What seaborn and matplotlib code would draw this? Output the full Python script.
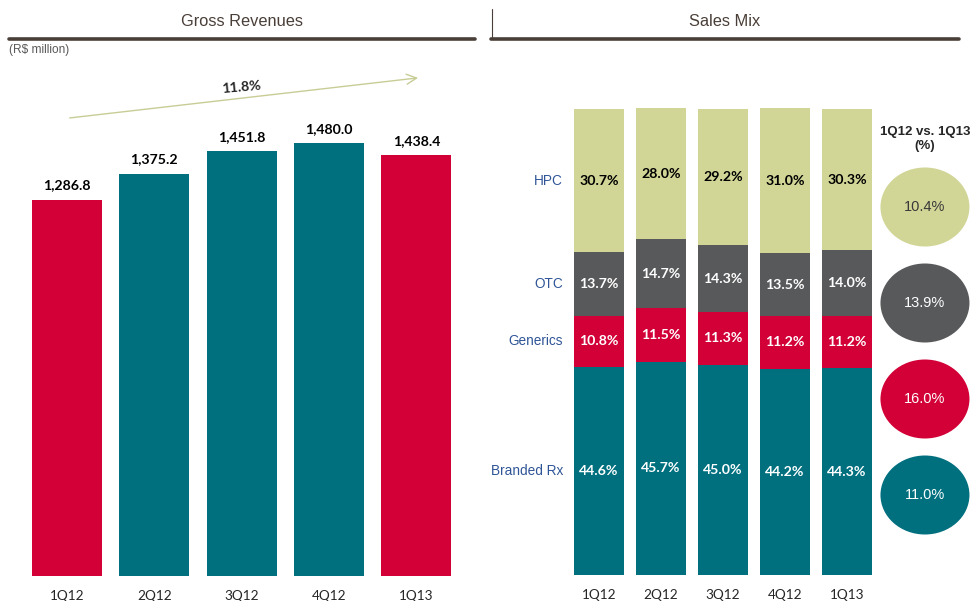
import numpy as np
import pandas as pd
import seaborn as sns
from matplotlib import pyplot as plt
from matplotlib.patches import Ellipse
from matplotlib.transforms import blended_transform_factory

# data
quarters = ["1Q12", "2Q12", "3Q12", "4Q12", "1Q13"]
gross_revenues = [1286.8, 1375.2, 1451.8, 1480.0, 1438.4]
growth_label = "11.8%"

segments = ["Branded Rx", "Generics", "OTC", "HPC"]
branded_rx = [44.6, 45.7, 45.0, 44.2, 44.3]
generics = [10.8, 11.5, 11.3, 11.2, 11.2]
otc = [13.7, 14.7, 14.3, 13.5, 14.0]
hpc = [30.7, 28.0, 29.2, 31.0, 30.3]
yoy_growth = [11.0, 16.0, 13.9, 10.4]  # same order as segments

TEAL = "#00707F"
RED = "#D20037"
HPC_GREEN = "#D1D596"
GREY = "#58595B"
HEADER = "#4A3F38"
LABEL_BLUE = "#2F5597"
BOLD_FONT = ["Lato", "DejaVu Sans"]

sns.set_theme(style="white")
plt.rcParams["font.family"] = ["Liberation Sans", "DejaVu Sans"]

fig = plt.figure(figsize=(9.71, 6.01), dpi=100)
W, H = 971, 601


def px_axes(x0, y0, x1, y1):
    """add axes from pixel box (top-left origin)"""
    return fig.add_axes([x0 / W, (H - y1) / H, (x1 - x0) / W, (y1 - y0) / H])


# ---- headers
fig.text(242 / W, 1 - 22 / H, "Gross Revenues", ha="center", va="center",
         fontsize=11.8, color=HEADER)
fig.text(725 / W, 1 - 22 / H, "Sales Mix", ha="center", va="center",
         fontsize=11.8, color=HEADER)
fig.add_artist(plt.Line2D([9 / W, 475 / W], [1 - 38.5 / H] * 2, color=HEADER, lw=2.6))
fig.add_artist(plt.Line2D([491 / W, 959 / W], [1 - 38.5 / H] * 2, color=HEADER, lw=2.6))
fig.add_artist(plt.Line2D([491.5 / W] * 2, [1 - 9 / H, 1 - 38 / H], color=HEADER, lw=0.8))
fig.text(9 / W, 1 - 50 / H, "(R$ million)", ha="left", va="center",
         fontsize=8.6, color="#595959")

# ---- gross revenues
ax = px_axes(23.4, 60, 460, 576)
rev = pd.DataFrame({"quarter": quarters, "revenue": gross_revenues})
bar_colors = [RED, TEAL, TEAL, TEAL, RED]
sns.barplot(data=rev, x="quarter", y="revenue", hue="quarter", palette=bar_colors,
            legend=False, width=0.8, saturation=1, linewidth=0, ax=ax)
ax.set_ylim(0, 516 / 0.2925)
ax.set_xlim(-0.5, 4.5)
for i, v in enumerate(gross_revenues):
    ax.annotate(f"{v:,.1f}", (i, v), xytext=(0, 6), textcoords="offset points",
                ha="center", va="bottom", fontsize=10.2, fontweight="bold",
                family=BOLD_FONT, color="black")
ax.annotate("", xy=(4.02, 1703), xytext=(0.03, 1566),
            arrowprops=dict(arrowstyle="->,head_length=0.6,head_width=0.3",
                            color="#C8CD96", lw=1.0, shrinkA=0, shrinkB=0))
ax.text(2.0, 1672, growth_label, ha="center", va="center", rotation=5,
        fontsize=10.2, fontweight="bold", family=BOLD_FONT)
ax.set_xlabel("")
ax.set_ylabel("")
ax.set_yticks([])
ax.tick_params(axis="x", length=0, pad=10, labelsize=9.8)
for lbl in ax.get_xticklabels():
    lbl.set_family(BOLD_FONT)
sns.despine(ax=ax, left=True, bottom=True)

# ---- sales mix, stacked by drawing cumulative totals back to front
ax2 = px_axes(568, 108, 878, 575)
layers = [branded_rx, generics, otc, hpc]
layer_colors = [TEAL, RED, GREY, HPC_GREEN]
cum = np.cumsum(np.array(layers), axis=0)
for k in range(len(layers) - 1, -1, -1):
    d = pd.DataFrame({"quarter": quarters, "share": cum[k]})
    sns.barplot(data=d, x="quarter", y="share", color=layer_colors[k],
                width=0.806, saturation=1, linewidth=0, ax=ax2)
ax2.set_ylim(0, 100)
ax2.set_xlim(-0.5, 4.5)

for k, vals in enumerate(layers):
    txt_color = "black" if segments[k] == "HPC" else "white"
    for i, v in enumerate(vals):
        y = cum[k][i] - v / 2
        ax2.text(i, y, f"{v:.1f}%", ha="center", va="center", fontsize=10.2,
                 fontweight="bold", color=txt_color, family=BOLD_FONT)

trans = blended_transform_factory(ax2.transAxes, ax2.transData)
for k, name in enumerate(segments):
    y = cum[k][0] - layers[k][0] / 2
    ax2.text(-0.016, y, name, transform=trans, ha="right", va="center",
             fontsize=9.8, color=LABEL_BLUE)

ax2.set_xlabel("")
ax2.set_ylabel("")
ax2.set_yticks([])
ax2.tick_params(axis="x", length=0, pad=10, labelsize=9.8)
for lbl in ax2.get_xticklabels():
    lbl.set_family(BOLD_FONT)
sns.despine(ax=ax2, left=True, bottom=True)

# ---- growth bubbles
ax3 = px_axes(878, 159, 971, 543)
ax3.set_xlim(0, 1)
ax3.set_ylim(-0.5, 3.5)
for k, g in enumerate(yoy_growth):
    ax3.add_patch(Ellipse((0.505, k), 0.957, 0.823, color=layer_colors[k], lw=0))
    ax3.text(0.505, k, f"{g:.1f}%", ha="center", va="center", fontsize=10.5,
             color="#3A3A3A" if segments[k] == "HPC" else "white")
ax3.axis("off")
fig.text(925 / W, 1 - 139 / H, "1Q12 vs. 1Q13\n(%)", ha="center", va="center",
         fontsize=9.5, fontweight="bold", linespacing=1.15)

fig.savefig("out.png", dpi=100)
